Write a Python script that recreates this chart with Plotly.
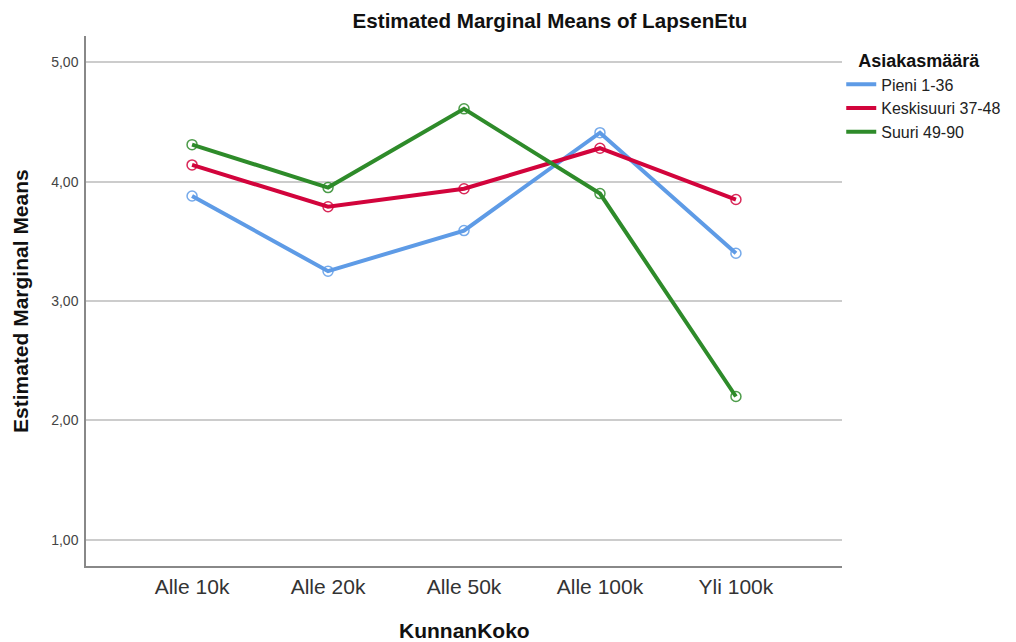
import plotly.graph_objects as go

categories = ["Alle 10k", "Alle 20k", "Alle 50k", "Alle 100k", "Yli 100k"]
series_names = ["Pieni 1-36", "Keskisuuri 37-48", "Suuri 49-90"]
pieni = [3.88, 3.25, 3.59, 4.41, 3.40]
keskisuuri = [4.14, 3.79, 3.94, 4.28, 3.85]
suuri = [4.31, 3.95, 4.61, 3.90, 2.20]
y_ticks = [1, 2, 3, 4, 5]
y_tick_labels = ["1,00", "2,00", "3,00", "4,00", "5,00"]

colors = ["#5E9BE6", "#D2043C", "#2E8B2A"]
FONT = "Liberation Sans, Arial, sans-serif"

xs = list(range(len(categories)))
fig = go.Figure()
for name, vals, col in zip(series_names, [pieni, keskisuuri, suuri], colors):
    fig.add_trace(go.Scatter(
        x=xs, y=vals, name=name, mode="lines",
        line=dict(color=col, width=4), legendgroup=name,
    ))
for name, vals, col in zip(series_names, [pieni, keskisuuri, suuri], colors):
    fig.add_trace(go.Scatter(
        x=xs, y=vals, name=name, mode="markers", showlegend=False, legendgroup=name,
        marker=dict(symbol="circle-open", size=10, color=col, opacity=0.85, line=dict(width=1.5)),
    ))

fig.update_layout(
    width=1008, height=634,
    margin=dict(l=78, r=174, t=28, b=76, autoexpand=False),
    paper_bgcolor="white", plot_bgcolor="white",
    font=dict(family=FONT, color="#222"),
    title=dict(text="<b>Estimated Marginal Means of LapsenEtu</b>", x=0.5377, xanchor="center",
               xref="container", yref="container",
               y=0.9795, yanchor="middle", font=dict(size=20.6, color="#111")),
    xaxis=dict(range=[-0.78, 4.78], tickvals=xs, ticktext=categories, automargin=False,
               showgrid=False, zeroline=False, showline=True, linecolor="#888", linewidth=1.5,
               ticks="", tickfont=dict(size=21, color="#333"), ticklabelstandoff=1),
    yaxis=dict(range=[0.78, 5.22], tickvals=y_ticks, ticktext=y_tick_labels, automargin=False,
               showgrid=True, gridcolor="#CCCCCC", gridwidth=1.5, zeroline=False,
               showline=True, linecolor="#888", linewidth=1.5,
               ticks="", tickfont=dict(size=14, color="#444"), ticklabelstandoff=3),
    legend=dict(x=0.999, xanchor="left", y=0.985, yanchor="top",
                title=dict(text="&nbsp;&nbsp;&nbsp;<b>Asiakasmäärä</b>", font=dict(size=18, color="#111")),
                font=dict(size=16, color="#222"), itemwidth=30, tracegroupgap=0,
                bgcolor="rgba(0,0,0,0)"),
    showlegend=True,
    annotations=[
        dict(text="<b>Estimated Marginal Means</b>", xref="paper", yref="paper",
             x=-0.0873, y=0.5, xanchor="center", yanchor="middle", textangle=-90,
             showarrow=False, font=dict(size=21, color="#111")),
        dict(text="<b>KunnanKoko</b>", xref="paper", yref="paper",
             x=0.501, y=-0.1208, xanchor="center", yanchor="middle",
             showarrow=False, font=dict(size=21, color="#111")),
    ],
)

fig.write_html("out.html")
